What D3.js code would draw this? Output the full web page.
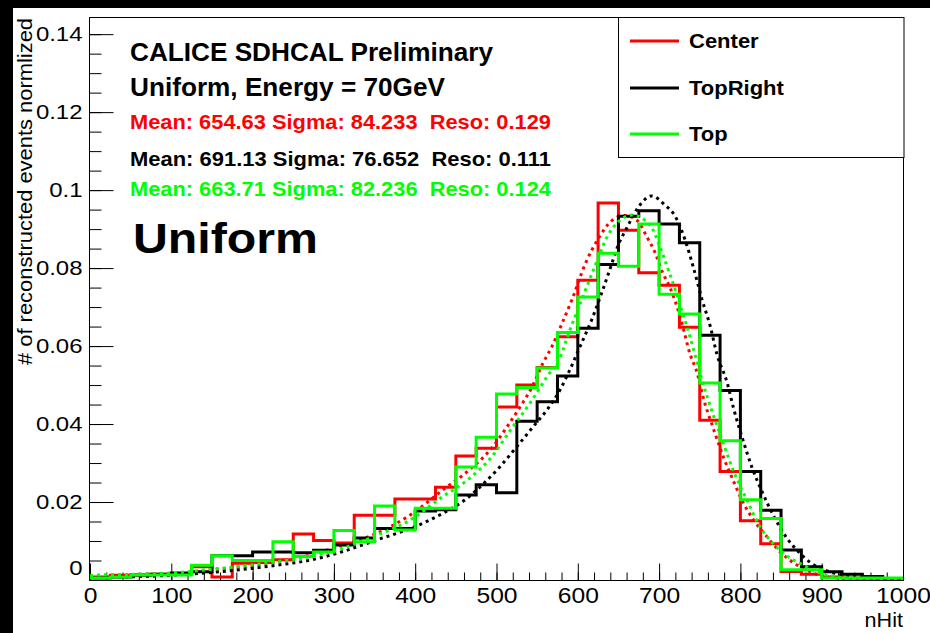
<!DOCTYPE html>
<html><head><meta charset="utf-8">
<script src="https://cdn.jsdelivr.net/npm/d3@7"></script>
<style>
html,body{margin:0;padding:0;background:#000;}
svg{display:block;}
text{font-family:"Liberation Sans",Arial,Helvetica,sans-serif;}
</style></head><body>
<svg id="chart" width="930" height="633"></svg>
<script>
// nHit distributions, normalised, in 25-hit bins from 0 to 1000
const binWidth = 25;
const binLow = d3.range(0, 1000, binWidth);

const centerValues = [
  0.0008, 0.0012, 0.0012, 0.0015, 0.0015, 0.0034, 0.0008, 0.0043, 0.0045, 0.0052,
  0.0118, 0.0101, 0.0095, 0.0166, 0.0166, 0.0208, 0.0208, 0.0238, 0.0318, 0.0338,
  0.0444, 0.0500, 0.0545, 0.0624, 0.0769, 0.0967, 0.0897, 0.0788, 0.0756, 0.0648,
  0.0410, 0.0278, 0.0152, 0.0093, 0.0022, 0.0015, 0.0008, 0.0005, 0.0003, 0.0002
];
const topRightValues = [
  0.0005, 0.0008, 0.0013, 0.0015, 0.0018, 0.0021, 0.0062, 0.0062, 0.0072, 0.0072,
  0.0070, 0.0076, 0.0090, 0.0108, 0.0132, 0.0132, 0.0177, 0.0180, 0.0218, 0.0244,
  0.0224, 0.0407, 0.0457, 0.0523, 0.0646, 0.0809, 0.0933, 0.0947, 0.0913, 0.0865,
  0.0628, 0.0486, 0.0278, 0.0179, 0.0077, 0.0034, 0.0021, 0.0015, 0.0009, 0.0003
];
const topValues = [
  0.0005, 0.0008, 0.0013, 0.0013, 0.0013, 0.0038, 0.0062, 0.0050, 0.0050, 0.0098,
  0.0060, 0.0072, 0.0127, 0.0098, 0.0190, 0.0128, 0.0184, 0.0184, 0.0290, 0.0366,
  0.0477, 0.0494, 0.0544, 0.0635, 0.0726, 0.0838, 0.0805, 0.0913, 0.0733, 0.0682,
  0.0505, 0.0357, 0.0206, 0.0158, 0.0026, 0.0026, 0.0005, 0.0005, 0.0005, 0.0005
];

// fitted curves (nHit, density)
const centerFitX = [0, 25, 65, 107, 148, 188, 230, 271, 311, 353, 394, 434, 464, 492, 513, 529, 544, 557, 568, 581, 593, 609, 625, 642, 658, 673, 685, 695, 704, 713, 726, 738, 747, 754, 766, 779, 791, 803, 816, 833, 849, 870, 889, 919, 959, 1000];
const centerFitY = [0.0010, 0.0012, 0.0015, 0.0017, 0.0026, 0.0034, 0.0047, 0.0064, 0.0090, 0.0120, 0.0167, 0.0231, 0.0278, 0.0333, 0.0393, 0.0444, 0.0496, 0.0556, 0.0598, 0.0660, 0.0720, 0.0810, 0.0875, 0.0922, 0.0935, 0.0922, 0.0880, 0.0840, 0.0790, 0.0752, 0.0675, 0.0580, 0.0530, 0.0470, 0.0393, 0.0316, 0.0256, 0.0200, 0.0155, 0.0110, 0.0072, 0.0038, 0.0018, 0.0005, 0.0001, 0.00002];

const topRightFitX = [0, 25, 65, 107, 148, 188, 230, 271, 311, 353, 394, 434, 461, 483, 504, 525, 545, 562, 578, 590, 603, 617, 630, 640, 649, 661, 674, 691, 707, 720, 732, 742, 753, 763, 771, 784, 791, 803, 814, 827, 840, 857, 873, 886, 910, 947, 988, 1000];
const topRightFitY = [0.0007, 0.0008, 0.0009, 0.0013, 0.0019, 0.0027, 0.0038, 0.0051, 0.0073, 0.0103, 0.0132, 0.0171, 0.0205, 0.0245, 0.0290, 0.0342, 0.0393, 0.0436, 0.0487, 0.0538, 0.0600, 0.0667, 0.0740, 0.0800, 0.0855, 0.0906, 0.0955, 0.0985, 0.0962, 0.0932, 0.0872, 0.0803, 0.0718, 0.0650, 0.0580, 0.0504, 0.0445, 0.0360, 0.0290, 0.0225, 0.0168, 0.0108, 0.0069, 0.0045, 0.0021, 0.0008, 0.0003, 0.0002];

const topFitX = [0, 12, 65, 107, 148, 188, 230, 271, 311, 353, 394, 434, 464, 494, 520, 541, 562, 578, 590, 605, 624, 636, 648, 667, 689, 701, 710, 720, 729, 738, 747, 754, 766, 779, 791, 808, 824, 840, 857, 873, 898, 931, 972, 1000];
const topFitY = [0.0011, 0.0013, 0.0015, 0.0019, 0.0027, 0.0036, 0.0047, 0.0060, 0.0082, 0.0115, 0.0154, 0.0214, 0.0256, 0.0316, 0.0393, 0.0453, 0.0521, 0.0570, 0.0640, 0.0720, 0.0820, 0.0880, 0.0915, 0.0936, 0.0910, 0.0855, 0.0803, 0.0744, 0.0684, 0.0624, 0.0556, 0.0504, 0.0427, 0.0350, 0.0282, 0.0205, 0.0137, 0.0094, 0.0062, 0.0043, 0.0018, 0.0005, 0.0001, 0.00003];

const seriesNames = ["Center", "TopRight", "Top"];
const seriesColors = ["#ff0000", "#000000", "#00ff00"];
const statLines = [
  "Mean: 654.63 Sigma: 84.233  Reso: 0.129",
  "Mean: 691.13 Sigma: 76.652  Reso: 0.111",
  "Mean: 663.71 Sigma: 82.236  Reso: 0.124"
];

const xTicks = [0, 100, 200, 300, 400, 500, 600, 700, 800, 900, 1000];
const yTicks = [0, 0.02, 0.04, 0.06, 0.08, 0.1, 0.12, 0.14];
const yTickLabels = ["0", "0.02", "0.04", "0.06", "0.08", "0.1", "0.12", "0.14"];

// ---- drawing ----
const svg = d3.select("#chart");
svg.append("rect").attr("x", 13).attr("y", 8).attr("width", 917).attr("height", 625).attr("fill", "#fff");

// the canvas fonts are slightly wider than the stock Helvetica metrics
function widen(sel, factor) {
  sel.each(function () {
    const w = this.getComputedTextLength();
    d3.select(this).attr("textLength", w * factor).attr("lengthAdjust", "spacingAndGlyphs");
  });
}

const x = d3.scaleLinear().domain([0, 1000]).range([90, 903]);
const y = d3.scaleLinear().domain([0, 0.1444]).range([580, 17]);

const clip = svg.append("defs").append("clipPath").attr("id", "frame-clip");
clip.append("rect").attr("x", 89).attr("y", 17).attr("width", 815).attr("height", 563);

// y axis: major + minor ticks pointing into the frame
const yMinor = d3.range(0, 0.1444, 0.005);
svg.append("g").attr("transform", "translate(89.5,0)")
  .call(d3.axisLeft(y).tickValues(yMinor).tickSize(-12).tickFormat(""))
  .call(g => g.select(".domain").remove())
  .call(g => g.selectAll("line").attr("stroke", "#000"));
const yAxis = svg.append("g").attr("transform", "translate(89.5,0)")
  .call(d3.axisLeft(y).tickValues(yTicks).tickSize(-24).tickPadding(7)
    .tickFormat((d, i) => yTickLabels[i]))
  .call(g => g.select(".domain").remove());
yAxis.selectAll("line").attr("stroke", "#000");
yAxis.selectAll("text").attr("font-size", 21).attr("fill", "#000")
  .attr("font-family", "Liberation Sans, Arial, sans-serif")
  .call(widen, 1.14)
  .filter(d => d === 0).attr("transform", "translate(0,-12)");

// x axis
const xMinor = d3.range(0, 1001, 20);
svg.append("g").attr("transform", "translate(0,580.5)")
  .call(d3.axisBottom(x).tickValues(xMinor).tickSize(-8).tickFormat(""))
  .call(g => g.select(".domain").remove())
  .call(g => g.selectAll("line").attr("stroke", "#000"));
const xAxis = svg.append("g").attr("transform", "translate(0,580.5)")
  .call(d3.axisBottom(x).tickValues(xTicks).tickSize(-17).tickPadding(7).tickFormat(d3.format("d")))
  .call(g => g.select(".domain").remove());
xAxis.selectAll("line").attr("stroke", "#000");
xAxis.selectAll("text").attr("font-size", 22).attr("fill", "#000")
  .attr("font-family", "Liberation Sans, Arial, sans-serif")
  .call(widen, 1.12);

// frame
svg.append("rect").attr("x", 89.5).attr("y", 17.5).attr("width", 814).attr("height", 563)
  .attr("fill", "none").attr("stroke", "#000").attr("stroke-width", 1);

// histograms and fits
const plot = svg.append("g").attr("clip-path", "url(#frame-clip)");
const stepLine = d3.line().x(d => x(d[0])).y(d => y(d[1])).curve(d3.curveStepAfter);
const fitLine = d3.line().x(d => x(d[0])).y(d => y(d[1])).curve(d3.curveMonotoneX);

const hists = [centerValues, topRightValues, topValues];
const fits = [[centerFitX, centerFitY], [topRightFitX, topRightFitY], [topFitX, topFitY]];

hists.forEach((vals, k) => {
  const pts = binLow.map((b, i) => [b, vals[i]]);
  pts.push([binLow[binLow.length - 1] + binWidth, vals[vals.length - 1]]);
  plot.append("path").attr("d", stepLine(pts)).attr("fill", "none")
    .attr("stroke", seriesColors[k]).attr("stroke-width", 3).attr("stroke-linejoin", "miter");
  const fp = fits[k][0].map((xv, i) => [xv, fits[k][1][i]]);
  plot.append("path").attr("d", fitLine(fp)).attr("fill", "none")
    .attr("stroke", seriesColors[k]).attr("stroke-width", 3).attr("stroke-dasharray", "3,4");
});

// text block
svg.append("text").attr("x", 130).attr("y", 61).attr("font-size", 25).attr("font-weight", "bold")
  .attr("textLength", 363).attr("lengthAdjust", "spacingAndGlyphs")
  .text("CALICE SDHCAL Preliminary");
svg.append("text").attr("x", 130).attr("y", 96).attr("font-size", 25).attr("font-weight", "bold")
  .attr("textLength", 315).attr("lengthAdjust", "spacingAndGlyphs")
  .text("Uniform, Energy = 70GeV");
const statY = [129, 166, 196];
statLines.forEach((s, k) => {
  svg.append("text").attr("x", 130).attr("y", statY[k]).attr("font-size", 21).attr("font-weight", "bold")
    .attr("fill", seriesColors[k]).style("white-space", "pre")
    .attr("textLength", 421).attr("lengthAdjust", "spacingAndGlyphs").text(s);
});
svg.append("text").attr("x", 133).attr("y", 253).attr("font-size", 42).attr("font-weight", "bold")
  .attr("font-family", "DejaVu Sans, sans-serif").attr("textLength", 185).attr("lengthAdjust", "spacingAndGlyphs")
  .text("Uniform");

// legend
svg.append("rect").attr("x", 618.5).attr("y", 17.5).attr("width", 285.5).attr("height", 140)
  .attr("fill", "#fff").attr("stroke", "#000").attr("stroke-width", 1);
const legY = [41, 88, 134];
seriesNames.forEach((n, k) => {
  svg.append("line").attr("x1", 630).attr("x2", 679).attr("y1", legY[k]).attr("y2", legY[k])
    .attr("stroke", seriesColors[k]).attr("stroke-width", 3);
  svg.append("text").attr("x", 689).attr("y", legY[k] + 7).attr("font-size", 20).attr("font-weight", "bold")
    .text(n).call(widen, 1.1);
});

// axis titles
svg.append("text").attr("transform", "translate(32,18) rotate(-90)").attr("text-anchor", "end")
  .attr("font-size", 20).attr("textLength", 347).attr("lengthAdjust", "spacingAndGlyphs")
  .text("# of reconstructed events normlized");
svg.append("text").attr("x", 903).attr("y", 627).attr("text-anchor", "end").attr("font-size", 20)
  .text("nHit").call(widen, 1.08);
</script>
</body></html>
